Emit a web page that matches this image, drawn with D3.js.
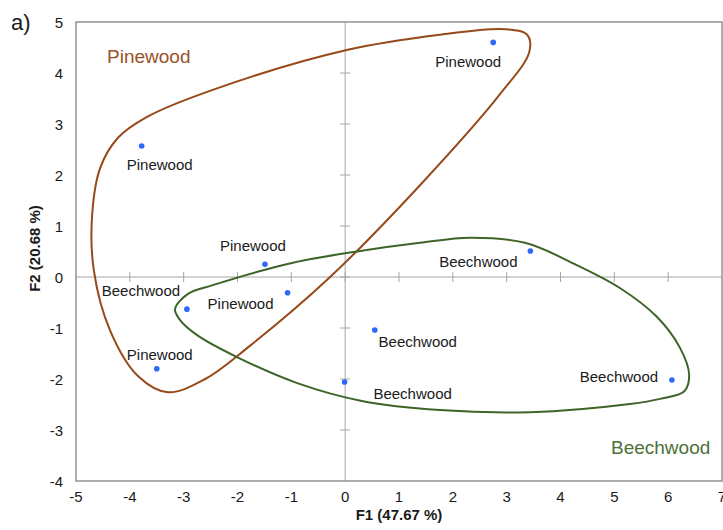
<!DOCTYPE html>
<html>
<head>
<meta charset="utf-8">
<script src="https://cdn.jsdelivr.net/npm/d3@7/dist/d3.min.js"></script>
<style>
  html, body { margin: 0; padding: 0; background: #fff; }
  svg { display: block; font-family: "Liberation Sans", Arial, sans-serif; }
</style>
</head>
<body>
<svg id="chart" width="723" height="530"></svg>
<script>
// PCA scores (F1, F2) for each wood sample
const sampleNames = ["Pinewood", "Pinewood", "Pinewood", "Pinewood", "Beechwood", "Pinewood",
                     "Beechwood", "Beechwood", "Beechwood", "Beechwood"];
const f1Scores = [2.75, -3.78, -1.49, -1.07, -2.94, -3.50, 3.44, 0.55, -0.01, 6.07];
const f2Scores = [4.60, 2.57, 0.25, -0.31, -0.63, -1.80, 0.51, -1.04, -2.06, -2.02];

// where each sample label sits relative to its point (px: dx to text centre, dy to baseline)
const labelDx = [-25, 18, -12, -47, -46, 3, -52, 43, 68, -53];
const labelDy = [25, 24, -13, 16, -13, -9, 16, 17, 17, 2];

// axis ticks
const xTicks = [-5, -4, -3, -2, -1, 0, 1, 2, 3, 4, 5, 6, 7];
const yTicks = [-4, -3, -2, -1, 0, 1, 2, 3, 4, 5];

// group outlines, in score units, going round each loop
const pineOutlineF1 = [0.03, 1.76, 2.97, 3.38, 3.42, 2.88, 1.39, -0.28, -1.77, -2.60,
                       -3.29, -3.85, -4.37, -4.67, -4.70, -4.55, -4.22, -3.68, -2.46];
const pineOutlineF2 = [4.45, 4.75, 4.86, 4.75, 4.41, 3.59, 1.80, 0.00, -1.35, -2.00,
                       -2.26, -1.94, -1.04, 0.14, 1.22, 2.14, 2.73, 3.14, 3.67];
const beechOutlineF1 = [-3.16, -2.92, -2.46, -0.97, 0.28, 1.39, 2.32, 3.34, 4.27, 5.11, 5.79, 6.22,
                        6.39, 6.30, 5.85, 5.29, 3.43, 1.76, 0.31, -0.89, -2.01, -2.75, -3.07];
const beechOutlineF2 = [-0.63, -0.33, -0.16, 0.28, 0.51, 0.67, 0.77, 0.67, 0.25, -0.22, -0.78, -1.39,
                        -1.92, -2.24, -2.39, -2.49, -2.65, -2.61, -2.43, -2.08, -1.57, -1.14, -0.84];

const svg = d3.select("#chart");
const plotLeft = 76, plotRight = 722, plotTop = 22, plotBottom = 481;

const x = d3.scaleLinear().domain([-5, 7]).range([plotLeft, plotRight]);
const y = d3.scaleLinear().domain([-4, 5]).range([plotBottom, plotTop]);

const axisGrey = "#a6a6a6";
const frameGrey = "#8a8a8a";
const textCol = "#1a1a1a";
const pineCol = "#974a19";
const pineText = "#9a5229";
const beechCol = "#3f6428";
const beechText = "#4b7136";
const dotCol = "#2f67fa";

// zero lines with crossing tick marks
svg.append("line").attr("x1", plotLeft).attr("x2", plotRight).attr("y1", y(0)).attr("y2", y(0))
  .attr("stroke", axisGrey).attr("stroke-width", 1);
svg.append("line").attr("x1", x(0)).attr("x2", x(0)).attr("y1", plotTop).attr("y2", plotBottom)
  .attr("stroke", axisGrey).attr("stroke-width", 1);
svg.append("g").selectAll("line").data(xTicks.filter(d => d > -5 && d < 7)).join("line")
  .attr("x1", d => x(d)).attr("x2", d => x(d))
  .attr("y1", y(0) - 5).attr("y2", y(0) + 5)
  .attr("stroke", axisGrey).attr("stroke-width", 1);
svg.append("g").selectAll("line").data(yTicks.filter(d => d > -4 && d < 5)).join("line")
  .attr("x1", x(0) - 5).attr("x2", x(0) + 5)
  .attr("y1", d => y(d)).attr("y2", d => y(d))
  .attr("stroke", axisGrey).attr("stroke-width", 1);

// plot frame
svg.append("rect").attr("x", plotLeft).attr("y", plotTop)
  .attr("width", plotRight - plotLeft).attr("height", plotBottom - plotTop)
  .attr("fill", "none").attr("stroke", frameGrey).attr("stroke-width", 1.4);

// tick labels
svg.append("g").selectAll("text").data(xTicks).join("text")
  .attr("x", d => x(d)).attr("y", 502)
  .attr("text-anchor", "middle").attr("font-size", 15).attr("fill", textCol)
  .text(d => d);
svg.append("g").selectAll("text").data(yTicks).join("text")
  .attr("x", 63).attr("y", d => y(d) + 6)
  .attr("text-anchor", "end").attr("font-size", 15).attr("fill", textCol)
  .text(d => d);

// axis titles
svg.append("text").attr("x", (plotLeft + plotRight) / 2).attr("y", 520)
  .attr("text-anchor", "middle").attr("font-size", 15).attr("font-weight", "bold")
  .attr("fill", textCol).text("F1 (47.67 %)");
svg.append("text")
  .attr("transform", `translate(40, ${(plotTop + plotBottom) / 2 - 3}) rotate(-90)`)
  .attr("text-anchor", "middle").attr("font-size", 15).attr("font-weight", "bold")
  .attr("fill", textCol).text("F2 (20.68 %)");

// panel letter
svg.append("text").attr("x", 11).attr("y", 30).attr("font-size", 22)
  .attr("fill", textCol).text("a)");

// group outlines
const outline = d3.line()
  .x(d => x(d[0])).y(d => y(d[1]))
  .curve(d3.curveCatmullRomClosed.alpha(0.5));
svg.append("path")
  .attr("d", outline(d3.zip(pineOutlineF1, pineOutlineF2)))
  .attr("fill", "none").attr("stroke", pineCol).attr("stroke-width", 2);
svg.append("path")
  .attr("d", outline(d3.zip(beechOutlineF1, beechOutlineF2)))
  .attr("fill", "none").attr("stroke", beechCol).attr("stroke-width", 2);

// group titles
svg.append("text").attr("x", 107).attr("y", 63).attr("font-size", 19)
  .attr("fill", pineText).text("Pinewood");
svg.append("text").attr("x", 611).attr("y", 454).attr("font-size", 19)
  .attr("fill", beechText).text("Beechwood");

// samples
const samples = sampleNames.map((name, i) => ({
  name, f1: f1Scores[i], f2: f2Scores[i], dx: labelDx[i], dy: labelDy[i]
}));

svg.append("g").selectAll("circle").data(samples).join("circle")
  .attr("cx", d => x(d.f1)).attr("cy", d => y(d.f2)).attr("r", 2.8)
  .attr("fill", dotCol);

svg.append("g").selectAll("text").data(samples).join("text")
  .attr("x", d => x(d.f1) + d.dx).attr("y", d => y(d.f2) + d.dy)
  .attr("text-anchor", "middle").attr("font-size", 15).attr("fill", textCol)
  .text(d => d.name);
</script>
</body>
</html>
